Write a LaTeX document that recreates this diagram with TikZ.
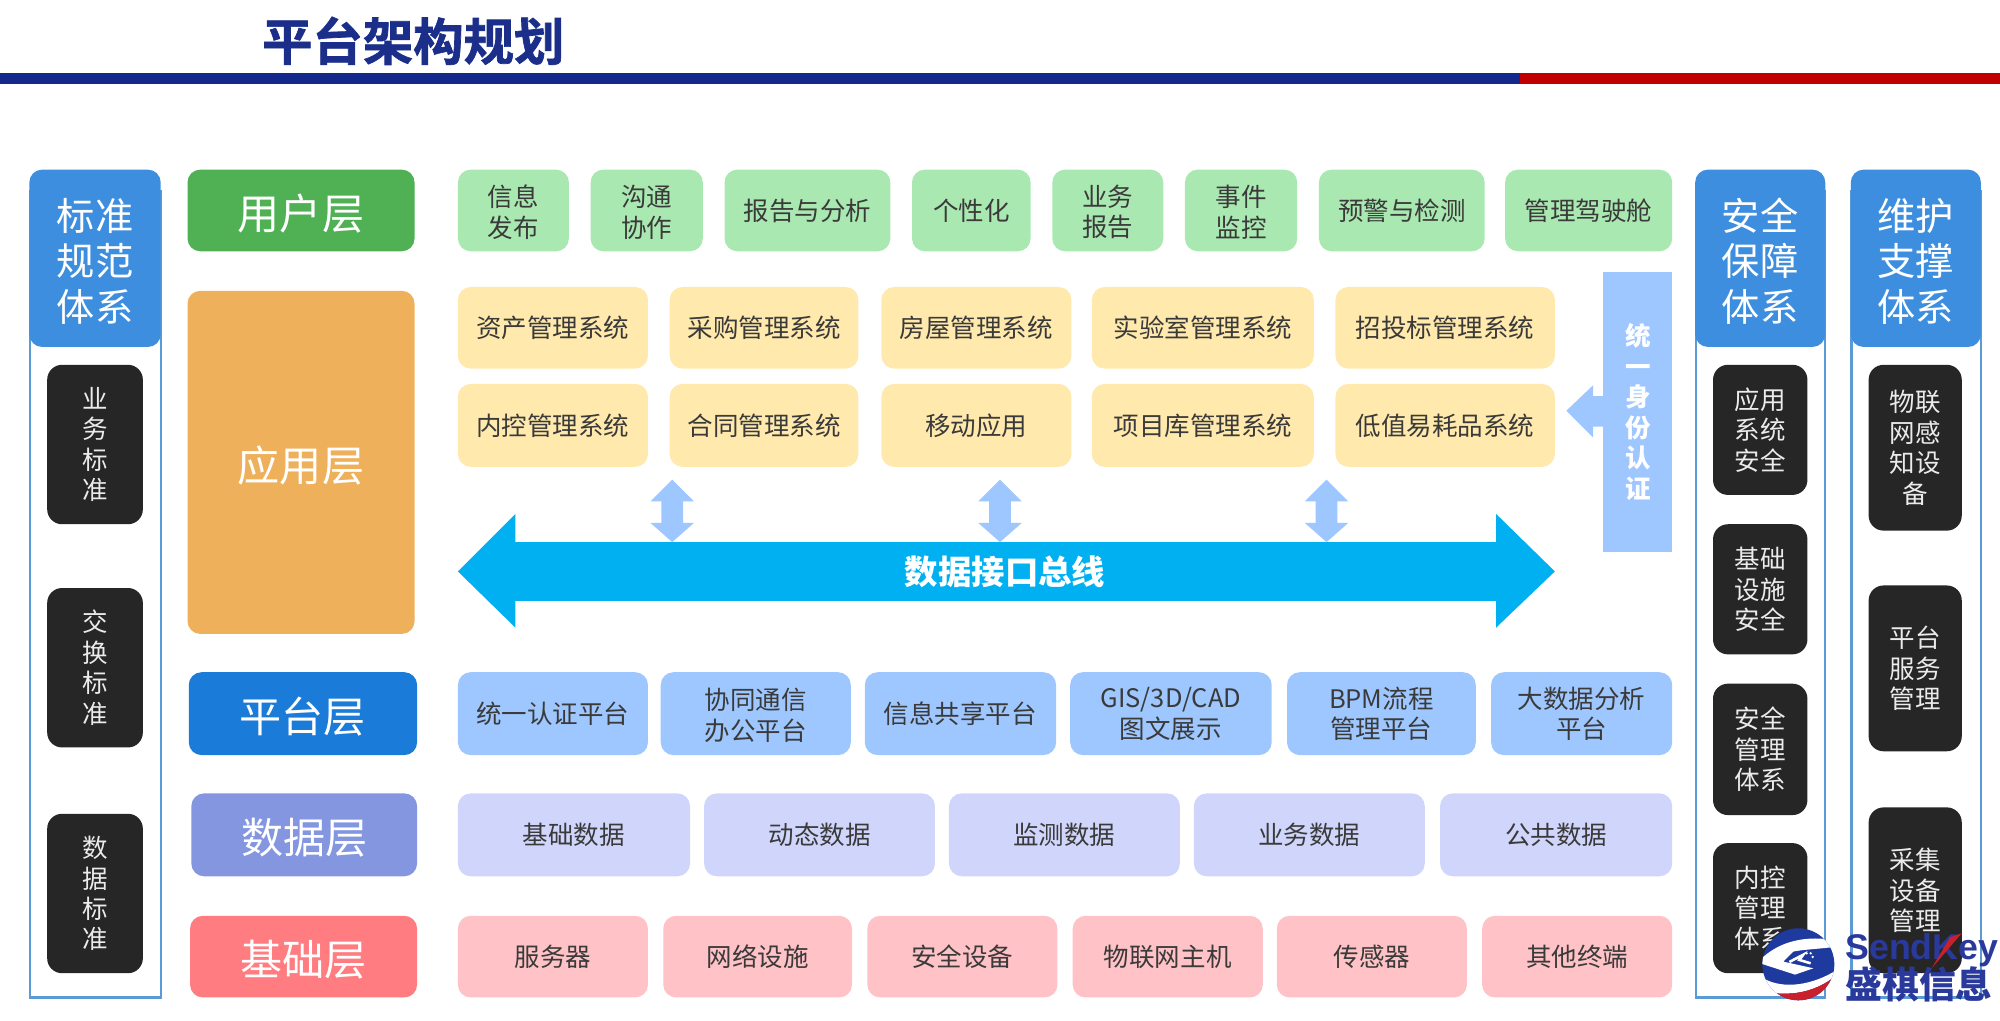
\documentclass[tikz,border=0pt]{standalone}
\usepackage{fontspec}
\setmainfont{Noto Sans CJK SC}
\setsansfont{Liberation Sans}
\newfontfamily\heavyfont[FakeBold=1.4]{Noto Sans CJK SC Bold}
\definecolor{titleblue}{HTML}{1B2F8A}
\definecolor{barblue}{HTML}{14288C}
\definecolor{barred}{HTML}{C00000}
\definecolor{headblue}{HTML}{3D8EDE}
\definecolor{panelline}{HTML}{5B9BD5}
\definecolor{darkbox}{HTML}{262626}
\definecolor{lgreen}{HTML}{4FB153}
\definecolor{lorange}{HTML}{EEB05A}
\definecolor{lblue}{HTML}{1A7BD8}
\definecolor{lpurple}{HTML}{8496E0}
\definecolor{lred}{HTML}{FF7C80}
\definecolor{cgreen}{HTML}{A9E8B0}
\definecolor{cyellow}{HTML}{FFE9AC}
\definecolor{cblue}{HTML}{9FC7FF}
\definecolor{cpurple}{HTML}{D0D5FB}
\definecolor{cpink}{HTML}{FFC2C6}
\definecolor{busblue}{HTML}{00B0F0}
\definecolor{celltext}{HTML}{3A3A3A}
\definecolor{logoblue}{HTML}{1F3A9E}
\definecolor{brandblue}{HTML}{2A3A9C}
\definecolor{logored}{HTML}{C8202C}
\tikzset{
  boxbase/.style={inner sep=0pt,align=center,rounded corners=6pt},
  header/.style={boxbase,fill=headblue,text=white,font=\fontsize{18}{21.6}\selectfont},
  darkcell/.style={boxbase,rounded corners=7pt,fill=darkbox,text=white!92!black,font=\fontsize{12}{14.3}\selectfont},
  layer/.style={boxbase,text=white,font=\fontsize{19.8}{24}\selectfont},
  cell/.style={boxbase,text=celltext,font=\fontsize{12}{14.4}\selectfont},
  panel/.style={draw=panelline,line width=1.1pt,fill=white}
}
\newcommand{\bx}[7][]{%
  \node[#6,minimum width={(#4-#2)*0.6pt},minimum height={(#5-#3)*0.6pt},#1] (#7x) at ({(#2+#4)/2},{(#3+#5)/2})}
\newcommand{\hd}{\rule{0pt}{18pt}}
\newcommand{\ld}{\rule{0pt}{19.5pt}}
\newcommand{\cd}{\rule{0pt}{11.6pt}}
\begin{document}
\begin{tikzpicture}[x=0.6pt,y=-0.6pt]
\useasboundingbox (0,0) rectangle (1568,800);
% title and bar
\node[inner sep=0pt,text=titleblue,font=\heavyfont\fontsize{23.7}{28}\selectfont] (title) at (324,32) {平台架构规划};
\fill[barblue] (0,57) rectangle (1192,66);
\fill[barred] (1192,57) rectangle (1568,66);
% side panels
\draw[panel] (23.5,150) rectangle (126,782);
\draw[panel] (1329.5,150) rectangle (1431,782);
\draw[panel] (1451.5,150) rectangle (1553,782);
\bx{23}{133}{126}{272}{header}{ha}{\hd 标准\\规范\\体系};
\bx{1329}{133}{1431}{272}{header}{hb}{\hd 安全\\保障\\体系};
\bx{1451}{133}{1553}{272}{header}{hc}{\hd 维护\\支撑\\体系};
\bx{37}{286}{112}{411}{darkcell}{da}{业\\务\\标\\准};
\bx{37}{461}{112}{586}{darkcell}{db}{交\\换\\标\\准};
\bx{37}{638}{112}{763}{darkcell}{dc}{数\\据\\标\\准};
\bx{1343}{286}{1417}{388}{darkcell}{dd}{应用\\系统\\安全};
\bx{1343}{411}{1417}{513}{darkcell}{de}{基础\\设施\\安全};
\bx{1343}{536}{1417}{639}{darkcell}{df}{安全\\管理\\体系};
\bx{1343}{661}{1417}{763}{darkcell}{dg}{内控\\管理\\体系};
\bx{1465}{286}{1538}{416}{darkcell}{dh}{物联\\网感\\知设\\备};
\bx{1465}{459}{1538}{589}{darkcell}{di}{平台\\服务\\管理};
\bx{1465}{633}{1538}{763}{darkcell}{dj}{采集\\设备\\管理};
% layer labels
\bx{147}{133}{325}{197}{layer,fill=lgreen}{la}{\ld 用户层};
\bx{147}{228}{325}{497}{layer,fill=lorange}{lb}{\ld 应用层};
\bx{148}{527}{327}{592}{layer,fill=lblue}{lc}{\ld 平台层};
\bx{150}{622}{327}{687}{layer,fill=lpurple}{ld}{\ld 数据层};
\bx{149}{718}{327}{782}{layer,fill=lred}{le}{\ld 基础层};
% user row
\tikzset{gc/.style={cell,fill=cgreen}}
\bx{359}{133}{446}{197}{gc}{u1}{\cd 信息\\发布};
\bx{463}{133}{551}{197}{gc}{u2}{\cd 沟通\\协作};
\bx{568}{133}{698}{197}{gc}{u3}{报告与分析};
\bx{715}{133}{808}{197}{gc}{u4}{个性化};
\bx{825}{133}{912}{197}{gc}{u5}{\cd 业务\\报告};
\bx{929}{133}{1017}{197}{gc}{u6}{\cd 事件\\监控};
\bx{1034}{133}{1164}{197}{gc}{u7}{预警与检测};
\bx{1180}{133}{1311}{197}{gc}{u8}{管理驾驶舱};
% application rows
\tikzset{yc/.style={cell,fill=cyellow}}
\bx{359}{225}{508}{289}{yc}{a1}{资产管理系统};
\bx{525}{225}{673}{289}{yc}{a2}{采购管理系统};
\bx{691}{225}{840}{289}{yc}{a3}{房屋管理系统};
\bx{856}{225}{1030}{289}{yc}{a4}{实验室管理系统};
\bx{1047}{225}{1219}{289}{yc}{a5}{招投标管理系统};
\bx{359}{301}{508}{366}{yc}{b1}{内控管理系统};
\bx{525}{301}{673}{366}{yc}{b2}{合同管理系统};
\bx{691}{301}{840}{366}{yc}{b3}{移动应用};
\bx{856}{301}{1030}{366}{yc}{b4}{项目库管理系统};
\bx{1047}{301}{1219}{366}{yc}{b5}{低值易耗品系统};
% small double arrows
\foreach \cx in {527,784,1040}{
  \fill[cblue] (\cx,376) -- (\cx+17,393) -- (\cx+8.5,393) -- (\cx+8.5,410) -- (\cx+17,410) -- (\cx,425) -- (\cx-17,410) -- (\cx-8.5,410) -- (\cx-8.5,393) -- (\cx-17,393) -- cycle;
}
% bus
\fill[busblue] (359,448) -- (404,403) -- (404,425) -- (1173,425) -- (1173,403) -- (1219,448) -- (1173,492) -- (1173,471) -- (404,471) -- (404,492) -- cycle;
\node[inner sep=0pt,text=white,font=\bfseries\fontsize{15.7}{18}\selectfont] (bus) at (788,448) {数据接口总线};
% identity
\fill[cblue] (1228,322) -- (1249,302) -- (1249,310.5) -- (1257,310.5) -- (1257,334.5) -- (1249,334.5) -- (1249,343) -- cycle;
\bx{1257}{213}{1311}{433}{boxbase,rounded corners=0pt,fill=cblue,text=white,font=\bfseries\fontsize{12}{14.4}\selectfont}{id}{统\\一\\身\\份\\认\\证};
% platform row
\tikzset{bc/.style={cell,fill=cblue}}
\bx{359}{527}{508}{592}{bc}{p1}{统一认证平台};
\bx{518}{527}{667}{592}{bc}{p2}{\cd 协同通信\\办公平台};
\bx{678}{527}{828}{592}{bc}{p3}{信息共享平台};
\bx{839}{527}{997}{592}{bc}{p4}{GIS/3D/CAD\\图文展示};
\bx{1009}{527}{1157}{592}{bc}{p5}{BPM流程\\管理平台};
\bx{1169}{527}{1311}{592}{bc}{p6}{大数据分析\\平台};
% data row
\tikzset{pc/.style={cell,fill=cpurple}}
\bx{359}{622}{541}{687}{pc}{s1}{基础数据};
\bx{552}{622}{733}{687}{pc}{s2}{动态数据};
\bx{744}{622}{925}{687}{pc}{s3}{监测数据};
\bx{936}{622}{1117}{687}{pc}{s4}{业务数据};
\bx{1129}{622}{1311}{687}{pc}{s5}{公共数据};
% base row
\tikzset{rc/.style={cell,fill=cpink}}
\bx{359}{718}{508}{782}{rc}{f1}{服务器};
\bx{520}{718}{668}{782}{rc}{f2}{网络设施};
\bx{680}{718}{829}{782}{rc}{f3}{安全设备};
\bx{841}{718}{990}{782}{rc}{f4}{物联网主机};
\bx{1001}{718}{1150}{782}{rc}{f5}{传感器};
\bx{1162}{718}{1311}{782}{rc}{f6}{其他终端};
% logo text
\node[inner sep=0pt,anchor=west,text=brandblue,font=\sffamily\bfseries\fontsize{16.8}{20}\selectfont] (brand) at (1446.5,745) {SendKey};
\node[inner sep=0pt,anchor=west,text=brandblue,font=\bfseries\fontsize{17.3}{20}\selectfont] (brandcn) at (1446.5,772) {盛棋信息};
% logo mark, drawn in a local frame
\begin{scope}[shift={(1372,713.4)},x=0.1568pt,y=-0.1568pt]
\fill[logored] (635,70) -- (600,82) -- (545,175) -- cycle;
\begin{scope}
\clip (145,163) circle (108);
\fill[logoblue] (30,50) rectangle (260,280);
% lower white band
\fill[white] (40,205) .. controls (100,240) and (190,225) .. (260,180) -- (260,195) .. controls (200,245) and (130,258) .. (60,248) -- cycle;
% red crescent
\fill[logored] (60,248) .. controls (130,258) and (200,245) .. (260,195) -- (260,285) -- (60,285) -- cycle;
% white S
\fill[white] (30,150) .. controls (90,90) and (170,80) .. (235,88) -- (245,112) .. controls (190,118) and (150,120) .. (130,125) -- (100,155) -- (190,175) -- (135,194) -- (30,160) -- cycle;
% inner blue S detail
\draw[white,line width=1.2pt,line join=miter] (118,156) -- (160,134) -- (148,150) -- (182,160);
\fill[white] (170,130) circle (4) (182,130) circle (4) (188,141) circle (4);
\end{scope}
\end{scope}
\end{tikzpicture}
\end{document}
